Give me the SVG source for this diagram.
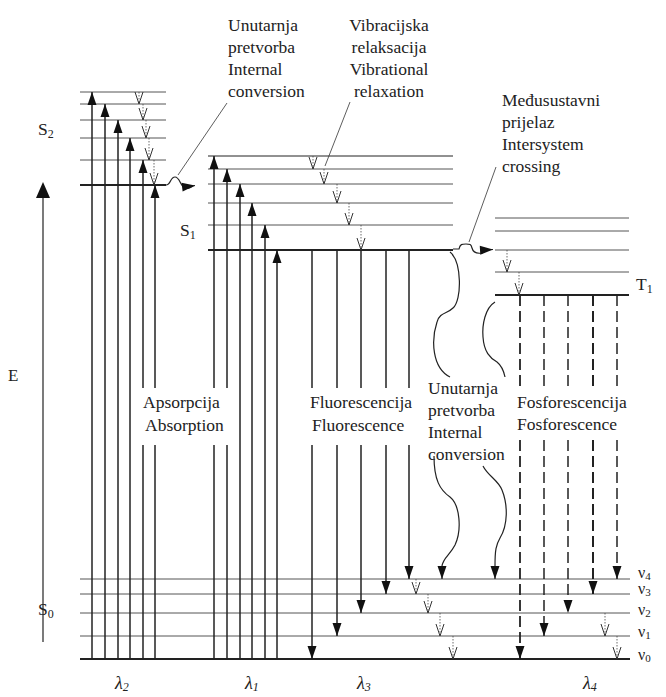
<svg xmlns="http://www.w3.org/2000/svg" width="666" height="697" viewBox="0 0 666 697">
<style>
.lv{stroke:#555;stroke-width:1;fill:none}
.lv0{stroke:#222;stroke-width:2;fill:none}
.tr{stroke:#222;stroke-width:1.5;fill:none}
.ds{stroke:#222;stroke-width:1.5;fill:none;stroke-dasharray:11 5}
.vr{stroke:#444;stroke-width:0.8;fill:none;stroke-dasharray:1.5 1.5}
.ic{stroke:#222;stroke-width:1.2;fill:none}
.ld{stroke:#333;stroke-width:0.8;fill:none}
text{font-family:"Liberation Serif","DejaVu Serif",serif;font-size:17.5px;fill:#222}
.sub{font-size:12px}
.nu{font-size:16px}
.nu .sub{font-size:11px}
.lam{font-style:italic;font-size:18px}
marker{overflow:visible}
</style>
<defs>
<marker id="a" markerUnits="userSpaceOnUse" markerWidth="13" markerHeight="9" viewBox="0 0 13 9" refX="13" refY="4.5" orient="auto"><path d="M0,0L13,4.5L0,9z" fill="#111"/></marker>
<marker id="v" markerUnits="userSpaceOnUse" markerWidth="12" markerHeight="9" viewBox="0 0 12 9" refX="12" refY="4.5" orient="auto"><path d="M0,0.5L12,4.5L0,8.5" fill="none" stroke="#333" stroke-width="1"/></marker>
</defs>
<rect width="666" height="697" fill="#fff"/>

<g id="S2" font-family="Liberation Serif, DejaVu Serif, serif">
<line class="lv" x1="80" y1="92" x2="166" y2="92"/>
<line class="lv" x1="80" y1="104" x2="166" y2="104"/>
<line class="lv" x1="80" y1="120" x2="166" y2="120"/>
<line class="lv" x1="80" y1="138" x2="166" y2="138"/>
<line class="lv" x1="80" y1="160" x2="166" y2="160"/>
<line class="lv0" x1="80" y1="185" x2="166" y2="185"/>
<text x="38" y="135">S<tspan class="sub" dy="3">2</tspan></text>
</g>

<g id="S1" font-family="Liberation Serif, DejaVu Serif, serif">
<line class="lv" x1="208" y1="156" x2="453" y2="156" style="stroke:#222"/>
<line class="lv" x1="208" y1="169" x2="453" y2="169"/>
<line class="lv" x1="208" y1="184" x2="453" y2="184"/>
<line class="lv" x1="208" y1="203" x2="453" y2="203"/>
<line class="lv" x1="208" y1="225" x2="453" y2="225"/>
<line class="lv0" x1="208" y1="250" x2="453" y2="250"/>
<text x="180" y="236">S<tspan class="sub" dy="3">1</tspan></text>
</g>

<g id="T1" font-family="Liberation Serif, DejaVu Serif, serif">
<line class="lv" x1="495" y1="218" x2="629" y2="218"/>
<line class="lv" x1="495" y1="231" x2="629" y2="231"/>
<line class="lv" x1="495" y1="250" x2="629" y2="250"/>
<line class="lv" x1="495" y1="272" x2="629" y2="272"/>
<line class="lv0" x1="495" y1="295" x2="629" y2="295"/>
<text x="636" y="290">T<tspan class="sub" dy="3">1</tspan></text>
</g>

<g id="S0" font-family="Liberation Serif, DejaVu Serif, serif">
<line class="lv" x1="80" y1="579" x2="630" y2="579"/>
<line class="lv" x1="80" y1="594" x2="630" y2="594"/>
<line class="lv" x1="80" y1="613" x2="630" y2="613"/>
<line class="lv" x1="80" y1="636" x2="630" y2="636"/>
<line class="lv0" x1="80" y1="659" x2="630" y2="659"/>
<text x="38" y="615">S<tspan class="sub" dy="3">0</tspan></text>
<text class="nu" x="638" y="578">ν<tspan class="sub" dy="2">4</tspan></text>
<text class="nu" x="638" y="594">ν<tspan class="sub" dy="2">3</tspan></text>
<text class="nu" x="638" y="615">ν<tspan class="sub" dy="2">2</tspan></text>
<text class="nu" x="638" y="637">ν<tspan class="sub" dy="2">1</tspan></text>
<text class="nu" x="638" y="660">ν<tspan class="sub" dy="2">0</tspan></text>
</g>

<g id="energy-axis" font-family="Liberation Serif, DejaVu Serif, serif">
<line class="tr" x1="43" y1="642" x2="43" y2="196" style="stroke-width:1.2"/>
<polygon points="43,182 36,198 50,198" fill="#111"/>
<text x="8" y="381" style="font-size:17px">E</text>
</g>

<g id="connectors">
<line class="tr" x1="92" y1="659" x2="92" y2="92" marker-end="url(#a)"/>
<line class="tr" x1="105" y1="659" x2="105" y2="104" marker-end="url(#a)"/>
<line class="tr" x1="118" y1="659" x2="118" y2="120" marker-end="url(#a)"/>
<line class="tr" x1="130" y1="659" x2="130" y2="138" marker-end="url(#a)"/>
<line class="tr" x1="143" y1="659" x2="143" y2="445"/>
<line class="tr" x1="143" y1="388" x2="143" y2="160" marker-end="url(#a)"/>
<line class="tr" x1="155" y1="659" x2="155" y2="445"/>
<line class="tr" x1="155" y1="388" x2="155" y2="185" marker-end="url(#a)"/>
<line class="tr" x1="214" y1="659" x2="214" y2="445"/>
<line class="tr" x1="214" y1="388" x2="214" y2="156" marker-end="url(#a)"/>
<line class="tr" x1="227" y1="659" x2="227" y2="445"/>
<line class="tr" x1="227" y1="388" x2="227" y2="169" marker-end="url(#a)"/>
<line class="tr" x1="240" y1="659" x2="240" y2="184" marker-end="url(#a)"/>
<line class="tr" x1="252" y1="659" x2="252" y2="203" marker-end="url(#a)"/>
<line class="tr" x1="265" y1="659" x2="265" y2="225" marker-end="url(#a)"/>
<line class="tr" x1="277" y1="659" x2="277" y2="250" marker-end="url(#a)"/>
<line class="tr" x1="312" y1="250" x2="312" y2="388"/>
<line class="tr" x1="312" y1="445" x2="312" y2="659" marker-end="url(#a)"/>
<line class="tr" x1="337" y1="250" x2="337" y2="388"/>
<line class="tr" x1="337" y1="445" x2="337" y2="636" marker-end="url(#a)"/>
<line class="tr" x1="361" y1="250" x2="361" y2="388"/>
<line class="tr" x1="361" y1="445" x2="361" y2="613" marker-end="url(#a)"/>
<line class="tr" x1="386" y1="250" x2="386" y2="388"/>
<line class="tr" x1="386" y1="445" x2="386" y2="594" marker-end="url(#a)"/>
<line class="tr" x1="409" y1="250" x2="409" y2="388"/>
<line class="tr" x1="409" y1="445" x2="409" y2="579" marker-end="url(#a)"/>
<line class="ds" x1="520" y1="295" x2="520" y2="390" style="stroke-width:1.8"/>
<line class="ds" x1="520" y1="440" x2="520" y2="659" style="stroke-width:1.8" marker-end="url(#a)"/>
<line class="ds" x1="544" y1="295" x2="544" y2="390"/>
<line class="ds" x1="544" y1="440" x2="544" y2="636" marker-end="url(#a)"/>
<line class="ds" x1="568" y1="295" x2="568" y2="390"/>
<line class="ds" x1="568" y1="440" x2="568" y2="613" marker-end="url(#a)"/>
<line class="ds" x1="593" y1="295" x2="593" y2="390" style="stroke-width:2"/>
<line class="ds" x1="593" y1="440" x2="593" y2="594" style="stroke-width:2" marker-end="url(#a)"/>
<line class="ds" x1="617" y1="295" x2="617" y2="390"/>
<line class="ds" x1="617" y1="440" x2="617" y2="579" marker-end="url(#a)"/>
<line class="vr" x1="139" y1="92" x2="139" y2="104" marker-end="url(#v)"/>
<line class="vr" x1="143" y1="104" x2="143" y2="120" marker-end="url(#v)"/>
<line class="vr" x1="146" y1="120" x2="146" y2="138" marker-end="url(#v)"/>
<line class="vr" x1="149" y1="138" x2="149" y2="160" marker-end="url(#v)"/>
<line class="vr" x1="154" y1="160" x2="154" y2="185" marker-end="url(#v)"/>
<line class="vr" x1="313" y1="156" x2="313" y2="169" marker-end="url(#v)"/>
<line class="vr" x1="324" y1="169" x2="324" y2="184" marker-end="url(#v)"/>
<line class="vr" x1="337" y1="184" x2="337" y2="203" marker-end="url(#v)"/>
<line class="vr" x1="349" y1="203" x2="349" y2="225" marker-end="url(#v)"/>
<line class="vr" x1="361" y1="225" x2="361" y2="250" marker-end="url(#v)"/>
<line class="vr" x1="507" y1="250" x2="507" y2="272" marker-end="url(#v)"/>
<line class="vr" x1="519" y1="272" x2="519" y2="295" marker-end="url(#v)"/>
<line class="vr" x1="416" y1="579" x2="416" y2="594" marker-end="url(#v)"/>
<line class="vr" x1="428" y1="594" x2="428" y2="613" marker-end="url(#v)"/>
<line class="vr" x1="440" y1="613" x2="440" y2="636" marker-end="url(#v)"/>
<line class="vr" x1="453" y1="636" x2="453" y2="659" marker-end="url(#v)"/>
<line class="vr" x1="605" y1="613" x2="605" y2="636" marker-end="url(#v)"/>
<line class="vr" x1="617" y1="636" x2="617" y2="659" marker-end="url(#v)"/>
<path class="ic" d="M166,185 C171,185 170,177 175,177 C180,177 180,186 185,188 C189,190 191,186 195,185.5" marker-end="url(#a)"/>
<path class="ic" d="M453,249 L459,249 C460,244 462,244 466,244 C470,244 471,244 472,248 C473,252 476,254 482,253 C484,252 484,250 493,249.5" marker-end="url(#a)"/>
<path class="ic" d="M450,252 C462,262 462,300 453,308 C447,314 440,312 437,322 C431,340 432,368 450,377"/>
<path class="ic" d="M434,456 C434,480 440,490 450,497 C460,505 462,530 455,545 C450,555 443,558 442,566 L442,579" marker-end="url(#a)"/>
<path class="ic" d="M495,302 C485,308 482,325 483,337 C484,352 490,358 497,362 C502,366 504,372 505,377"/>
<path class="ic" d="M483,466 C488,476 498,480 502,490 C508,505 508,525 500,538 C496,545 495,550 495,566 L495,579" marker-end="url(#a)"/>
<line class="ld" x1="178" y1="175" x2="227" y2="103"/>
<line class="ld" x1="325" y1="166" x2="350" y2="102"/>
<line class="ld" x1="469" y1="242" x2="496" y2="167"/>
</g>

<g id="labels" font-family="Liberation Serif, DejaVu Serif, serif">
<text x="228" y="31">Unutarnja</text>
<text x="228" y="53">pretvorba</text>
<text x="228" y="75">Internal</text>
<text x="228" y="97">conversion</text>
<text x="389" y="31" text-anchor="middle">Vibracijska</text>
<text x="389" y="53" text-anchor="middle">relaksacija</text>
<text x="389" y="75" text-anchor="middle">Vibrational</text>
<text x="389" y="97" text-anchor="middle">relaxation</text>
<text x="502" y="106">Međusustavni</text>
<text x="502" y="128">prijelaz</text>
<text x="502" y="150">Intersystem</text>
<text x="502" y="172">crossing</text>
<text x="143" y="408">Apsorpcija</text>
<text x="145" y="431">Absorption</text>
<text x="310" y="408">Fluorescencija</text>
<text x="312" y="431">Fluorescence</text>
<text x="428" y="394">Unutarnja</text>
<text x="428" y="416">pretvorba</text>
<text x="428" y="438">Internal</text>
<text x="428" y="460">conversion</text>
<text x="517" y="408">Fosforescencija</text>
<text x="517" y="430">Fosforescence</text>
<text class="lam" x="115" y="689">λ<tspan class="sub" dy="2">2</tspan></text>
<text class="lam" x="245" y="689">λ<tspan class="sub" dy="2">1</tspan></text>
<text class="lam" x="357" y="689">λ<tspan class="sub" dy="2">3</tspan></text>
<text class="lam" x="583" y="689">λ<tspan class="sub" dy="2">4</tspan></text>
</g>
</svg>
